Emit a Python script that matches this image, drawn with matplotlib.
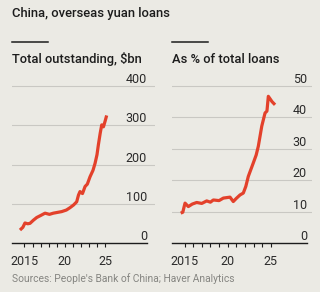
import matplotlib
matplotlib.use('Agg')
import matplotlib.pyplot as plt
import matplotlib.transforms as mtransforms
from matplotlib.lines import Line2D

plt.rcParams['font.family'] = ['Roboto', 'DejaVu Sans']

years_bn = [2014.44, 2014.8, 2015.06, 2015.4, 2015.68, 2016.1, 2016.52, 2017.0, 2017.55, 2018.1,
            2018.58, 2019.1, 2019.62, 2020.2, 2020.65, 2021.1, 2021.48, 2021.7, 2021.89, 2022.2,
            2022.52, 2022.8, 2023.14, 2023.5, 2023.76, 2024.0, 2024.17, 2024.4, 2024.59, 2024.8,
            2025.0, 2025.2]
bn = [33, 40, 51, 49, 50, 58, 65, 70, 76, 73,
      76, 78, 80, 84, 90, 97, 105, 122, 131, 126,
      144, 150, 169, 185, 203, 225, 250, 280, 301, 296,
      310, 325]

years_pct = [2014.56, 2014.8, 2015.06, 2015.44, 2015.9, 2016.41, 2017.0, 2017.57, 2018.0, 2018.34,
             2019.0, 2019.5, 2020.27, 2020.65, 2021.0, 2021.43, 2021.81, 2022.1, 2022.39, 2022.97,
             2023.3, 2023.55, 2023.95, 2024.33, 2024.55, 2024.71, 2025.14, 2025.49]
pct = [9.5, 9.8, 12.7, 11.6, 12.4, 12.9, 12.6, 13.4, 13.0, 13.7,
       13.5, 14.3, 14.6, 13.2, 14.2, 15.3, 15.9, 18.0, 21.2, 25.5,
       28.0, 30.8, 37.2, 41.4, 42.0, 46.7, 45.0, 44.0]

title = 'China, overseas yuan loans'
source = "Sources: People's Bank of China; Haver Analytics"

BG = '#ebeae4'
RED = '#e3412b'
GRID = '#c9c8c3'
INK = '#1c1c1c'

W, H = 320, 292
fig = plt.figure(figsize=(W / 100, H / 100), dpi=100, facecolor=BG)


def box(x0, x1, y0, y1):
    return [x0 / W, 1 - y1 / H, (x1 - x0) / W, (y1 - y0) / H]


panels = [
    dict(x=years_bn, y=bn, px=(12, 155), xlim=(2013.45, 2031.2), end=2030.2,
         ylim=(0, 415.3), yt=[0, 100, 200, 300, 400], sub='Total outstanding, $bn'),
    dict(x=years_pct, y=pct, px=(172, 312), xlim=(2013.55, 2029.77), end=2029.19,
         ylim=(0, 51.9), yt=[0, 10, 20, 30, 40, 50], sub='As % of total loans'),
]

for p in panels:
    ax = fig.add_axes(box(p['px'][0], p['px'][1], 80, 243))
    ax.set_facecolor('none')
    for v in p['yt'][1:]:
        ax.axhline(v, color=GRID, lw=0.8, zorder=0)
    ax.plot(p['x'], p['y'], color=RED, lw=2.3, solid_joinstyle='round',
            solid_capstyle='butt', zorder=3)
    ax.set_xlim(*p['xlim'])
    ax.set_ylim(*p['ylim'])
    for s in ['top', 'left', 'right']:
        ax.spines[s].set_visible(False)
    ax.spines['bottom'].set_bounds(p['xlim'][0], p['end'])
    ax.spines['bottom'].set_linewidth(1.0)
    ax.spines['bottom'].set_color(INK)
    ax.set_yticks([])
    ticks = list(range(2015, 2026))
    ax.set_xticks(ticks)
    ax.set_xticklabels(['2015' if t == 2015 else (str(t)[2:] if t % 5 == 0 else '') for t in ticks])
    ax.tick_params(axis='x', length=3, width=0.8, color=INK, pad=5.5,
                   labelsize=9, labelcolor='#2a2a2a')
    up = mtransforms.offset_copy(ax.transData, fig=fig, y=3, units='dots')
    for v in p['yt']:
        ax.text(p['end'], v, str(v), transform=up, ha='right', va='baseline',
                fontsize=9, color='#2a2a2a')
    x0 = p['px'][0]
    fig.add_artist(Line2D([x0 / W, (x0 + 36) / W], [1 - 42 / H] * 2, color=INK, lw=1.1))
    fig.text(x0 / W, 1 - 62.7 / H, p['sub'], fontsize=9.3, fontweight='medium',
             va='baseline', color=INK)

fig.text(12 / W, 1 - 17.5 / H, title, fontsize=9.4, fontweight='medium',
         va='baseline', color=INK)
fig.text(12 / W, 1 - 282 / H, source, fontsize=7.4, va='baseline', color='#858581')

fig.savefig('out.png', dpi=100, facecolor=BG)
